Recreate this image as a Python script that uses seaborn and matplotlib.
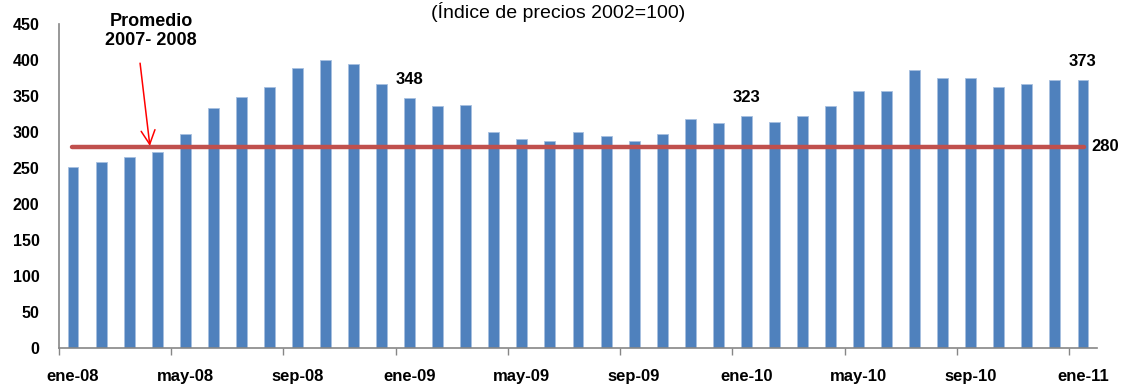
import matplotlib
matplotlib.use("Agg")
import matplotlib.pyplot as plt
import seaborn as sns
import pandas as pd
import numpy as np

# Monthly price index, Jan 2008 - Jan 2011 (2002 = 100)
months = [
    "ene-08", "feb-08", "mar-08", "abr-08", "may-08", "jun-08", "jul-08", "ago-08",
    "sep-08", "oct-08", "nov-08", "dic-08",
    "ene-09", "feb-09", "mar-09", "abr-09", "may-09", "jun-09", "jul-09", "ago-09",
    "sep-09", "oct-09", "nov-09", "dic-09",
    "ene-10", "feb-10", "mar-10", "abr-10", "may-10", "jun-10", "jul-10", "ago-10",
    "sep-10", "oct-10", "nov-10", "dic-10",
    "ene-11",
]
index_values = [
    252, 259, 266, 272, 297, 334, 349, 363, 390, 401, 395, 367,
    348, 336, 338, 300, 291, 288, 300, 295, 288, 297, 318, 313,
    323, 315, 322, 336, 358, 358, 386, 376, 376, 363, 367, 372,
    373,
]
average_2007_2008 = 280
labelled_months = ["ene-09", "ene-10", "ene-11"]
tick_months = months[::4]

df = pd.DataFrame({"mes": months, "indice": index_values})

sns.set_theme(style="white")
plt.rcParams["font.family"] = ["Liberation Sans", "DejaVu Sans"]
plt.rcParams["text.color"] = "black"
plt.rcParams["xtick.color"] = "black"
plt.rcParams["ytick.color"] = "black"

fig = plt.figure(figsize=(11.22, 3.88), dpi=100)
ax = fig.add_axes([59 / 1122, 39.7 / 388, (1097 - 59) / 1122, 324 / 388])

sns.barplot(data=df, x="mes", y="indice", order=months, color="#4F81BD",
            saturation=1, width=0.39, edgecolor="#A7C0E0", linewidth=0.6, ax=ax)

n = len(months)
ax.set_xlim(-0.5, n - 0.5)
ax.set_ylim(0, 450)
ax.set_yticks(np.arange(0, 451, 50))
ax.set_ylabel("")
ax.set_xlabel("")

# Category labels every four months, tick marks on category boundaries
pos = [months.index(m) for m in tick_months]
ax.set_xticks(pos)
ax.set_xticklabels(tick_months, fontsize=12, fontweight="bold")
ax.set_xticks([p - 0.5 for p in pos], minor=True)
ax.tick_params(axis="x", which="major", length=0, pad=15)
ax.tick_params(axis="x", which="minor", length=5, width=1, color="#868686", bottom=True)
ax.tick_params(axis="y", length=0, pad=14, labelsize=11.5)
for t in ax.get_yticklabels():
    t.set_fontweight("bold")

for side in ["top", "right"]:
    ax.spines[side].set_visible(False)
for side in ["left", "bottom"]:
    ax.spines[side].set_color("#868686")
    ax.spines[side].set_linewidth(1.2)

# Average reference line
ax.plot([-0.05, n - 1 + 0.05], [average_2007_2008, average_2007_2008],
        color="#C0504D", lw=3.2, solid_capstyle="round", zorder=4)
ax.text(n - 1 + 0.3, average_2007_2008, f"{average_2007_2008}", fontsize=12,
        fontweight="bold", va="center", ha="left", clip_on=False)

# Value labels on selected months
for m in labelled_months:
    i = months.index(m)
    v = index_values[i]
    ax.text(i, v + 26, f"{v}", ha="center", va="center", fontsize=12, fontweight="bold")

# Annotation for the 2007-2008 average
ax.annotate("", xy=(2.74, average_2007_2008 + 1), xytext=(2.39, 396),
            arrowprops=dict(arrowstyle="->", color="red", lw=1.1,
                            mutation_scale=25, shrinkA=0, shrinkB=0), zorder=5)
fig.text(151 / 1122, 1 - 31 / 388, "Promedio\n2007- 2008", ha="center", va="center",
         fontsize=13, fontweight="bold", linespacing=1.1)

fig.text(558 / 1122, 1 - 12 / 388, "(Índice de precios 2002=100)", ha="center",
         va="center", fontsize=14)

fig.savefig("out.png", dpi=100)
